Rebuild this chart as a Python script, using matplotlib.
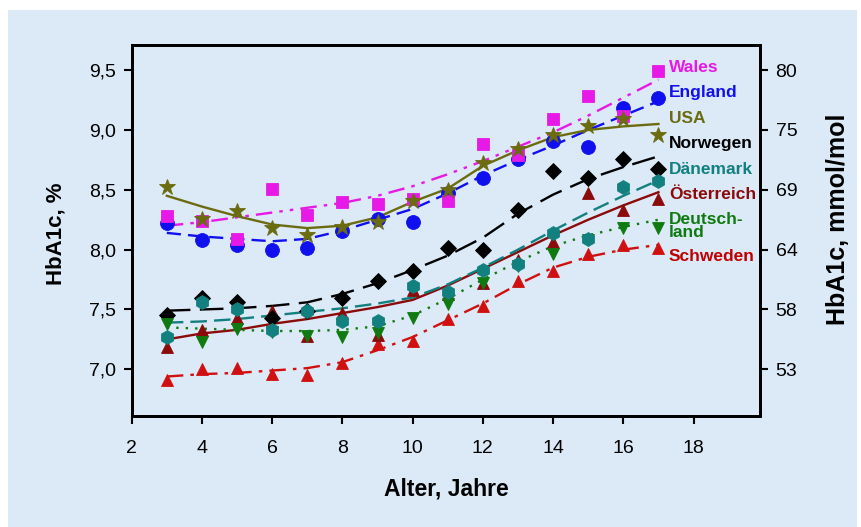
import matplotlib
matplotlib.use("Agg")
import matplotlib.pyplot as plt
from matplotlib.patches import Rectangle

plt.rcParams['font.family'] = ['Liberation Sans', 'DejaVu Sans']

ages = [3, 4, 5, 6, 7, 8, 9, 10, 11, 12, 13, 14, 15, 16, 17]

# measured points (HbA1c, %)
wales       = [8.28, 8.24, 8.09, 8.51, 8.29, 8.40, 8.38, 8.42, 8.41, 8.88, 8.79, 9.09, 9.28, 9.12, 9.49]
england     = [8.22, 8.08, 8.04, 8.00, 8.01, 8.16, 8.26, 8.23, 8.47, 8.60, 8.76, 8.91, 8.86, 9.18, 9.27]
usa         = [8.52, 8.26, 8.32, 8.18, 8.12, 8.19, 8.23, 8.41, 8.50, 8.72, 8.84, 8.96, 9.03, 9.09, 8.96]
norwegen    = [7.45, 7.60, 7.56, 7.43, 7.49, 7.60, 7.74, 7.82, 8.01, 8.00, 8.33, 8.66, 8.60, 8.76, 8.67]
daenemark   = [7.27, 7.56, 7.50, 7.33, 7.49, 7.40, 7.40, 7.70, 7.65, 7.83, 7.88, 8.14, 8.09, 8.52, 8.57]
oesterreich = [7.19, 7.33, 7.43, 7.49, 7.28, 7.47, 7.29, 7.66, 7.63, 7.72, 7.91, 8.06, 8.47, 8.33, 8.42]
deutschland = [7.38, 7.23, 7.34, 7.31, 7.28, 7.27, 7.30, 7.43, 7.55, 7.72, 7.86, 7.96, 8.08, 8.18, 8.18]
schweden    = [6.91, 7.00, 7.01, 6.96, 6.95, 7.05, 7.21, 7.24, 7.42, 7.53, 7.74, 7.82, 7.96, 8.04, 8.01]

# trend curves (HbA1c, %)
wales_fit       = [8.20, 8.23, 8.27, 8.31, 8.35, 8.39, 8.45, 8.53, 8.63, 8.74, 8.86, 8.98, 9.12, 9.27, 9.42]
england_fit     = [8.14, 8.11, 8.09, 8.07, 8.09, 8.16, 8.25, 8.34, 8.47, 8.62, 8.75, 8.87, 9.00, 9.12, 9.24]
usa_fit         = [8.45, 8.36, 8.28, 8.21, 8.18, 8.20, 8.27, 8.40, 8.51, 8.70, 8.83, 8.94, 9.00, 9.03, 9.05]
norwegen_fit    = [7.49, 7.50, 7.51, 7.53, 7.56, 7.63, 7.72, 7.83, 7.95, 8.10, 8.30, 8.46, 8.59, 8.69, 8.78]
daenemark_fit   = [7.39, 7.40, 7.42, 7.45, 7.48, 7.51, 7.55, 7.60, 7.71, 7.85, 8.00, 8.16, 8.31, 8.45, 8.58]
oesterreich_fit = [7.25, 7.30, 7.33, 7.38, 7.42, 7.47, 7.52, 7.58, 7.70, 7.84, 7.98, 8.12, 8.25, 8.37, 8.48]
deutschland_fit = [7.35, 7.34, 7.33, 7.32, 7.32, 7.33, 7.36, 7.45, 7.59, 7.75, 7.90, 8.03, 8.12, 8.19, 8.25]
schweden_fit    = [6.94, 6.96, 6.97, 6.99, 7.01, 7.06, 7.16, 7.27, 7.41, 7.55, 7.71, 7.85, 7.94, 8.00, 8.04]

country_labels = ["Wales", "England", "USA", "Norwegen", "Dänemark", "Österreich", "Deutsch-\nland", "Schweden"]

x_ticks = [2, 4, 6, 8, 10, 12, 14, 16, 18]
y_ticks = [7.0, 7.5, 8.0, 8.5, 9.0, 9.5]
y_ticklabels = ["7,0", "7,5", "8,0", "8,5", "9,0", "9,5"]
mmol_ticklabels = ["53", "58", "64", "69", "75", "80"]

BG = "#dce9f6"

fig = plt.figure(figsize=(8.62, 5.27), dpi=100)
fig.patch.set_facecolor("white")
fig.patches.append(Rectangle((8 / 862, 0), (857 - 8) / 862, (527 - 10) / 527,
                             transform=fig.transFigure, facecolor=BG, edgecolor="none", zorder=-10))

ax = fig.add_axes([131.7 / 862, (527 - 416) / 527, (760.3 - 131.7) / 862, (416 - 45) / 527])
ax.set_facecolor(BG)

series = [
    # data, fit, colour, marker, size, linestyle, label_y, label colour
    (schweden, schweden_fit, "#d01010", "^", 9, (0, (7, 3, 1.5, 3)), 7.94, "#c00000"),
    (oesterreich, oesterreich_fit, "#8b0a0a", "^", 9, "-", 8.46, "#8b0a0a"),
    (norwegen, norwegen_fit, "#000000", "D", 8, (0, (10, 4)), 8.89, "#000000"),
    (deutschland, deutschland_fit, "#0f7a0f", "v", 9, (0, (1, 3)), 8.20, "#0f7a0f"),
    (daenemark, daenemark_fit, "#12807f", "h", 10, (0, (7, 3)), 8.67, "#12807f"),
    (england, england_fit, "#1010ee", "o", 10, (0, (6, 3)), 9.31, "#1010ee"),
    (wales, wales_fit, "#e619e6", "s", 9, (0, (7, 3, 1.5, 3, 1.5, 3)), 9.52, "#e619e6"),
    (usa, usa_fit, "#6b6b10", "*", 12, "-", 9.10, "#6b6b10"),
]
label_order = {0: 7, 1: 5, 2: 3, 3: 6, 4: 4, 5: 1, 6: 0, 7: 2}

for i, (vals, fit, col, mk, ms, ls, ly, lcol) in enumerate(series):
    ax.plot(ages, fit, color=col, linestyle=ls, linewidth=1.7, zorder=2 + i * 0.1)
    ax.plot(ages, vals, linestyle="none", marker=mk, markersize=ms, color=col,
            markeredgecolor=col, markeredgewidth=0.6, zorder=3 + i * 0.1)
    ax.text(17.3, ly, country_labels[label_order[i]], color=lcol, fontsize=12.5,
            fontweight="bold", va="center", ha="left", linespacing=0.8, zorder=5)

ax.set_xlim(2, 19.9)
ax.set_ylim(6.61, 9.71)
ax.set_xticks(x_ticks)
ax.set_xticklabels([str(t) for t in x_ticks])
ax.set_yticks(y_ticks)
ax.set_yticklabels(y_ticklabels)

for s in ax.spines.values():
    s.set_linewidth(2)
    s.set_color("black")

ax.tick_params(axis="both", direction="out", length=6, width=1.5, labelsize=14, pad=5)
ax.tick_params(axis="x", pad=11)

ax.set_xlabel("Alter, Jahre", fontsize=16.5, fontweight="bold", labelpad=15)
ax.set_ylabel("HbA1c, %", fontsize=16, fontweight="bold")
ax.yaxis.set_label_coords(-0.103, 0.49)

ax2 = ax.twinx()
ax2.set_ylim(ax.get_ylim())
ax2.set_yticks(y_ticks)
ax2.set_yticklabels(mmol_ticklabels)
ax2.tick_params(axis="y", direction="out", length=6, width=1.5, labelsize=14, pad=5)
for s in ax2.spines.values():
    s.set_linewidth(2)
ax2.set_ylabel("HbA1c, mmol/mol", fontsize=18, fontweight="bold")
ax2.yaxis.set_label_coords(1.104, 0.53)

fig.savefig("out.png", dpi=100, facecolor=fig.get_facecolor())
